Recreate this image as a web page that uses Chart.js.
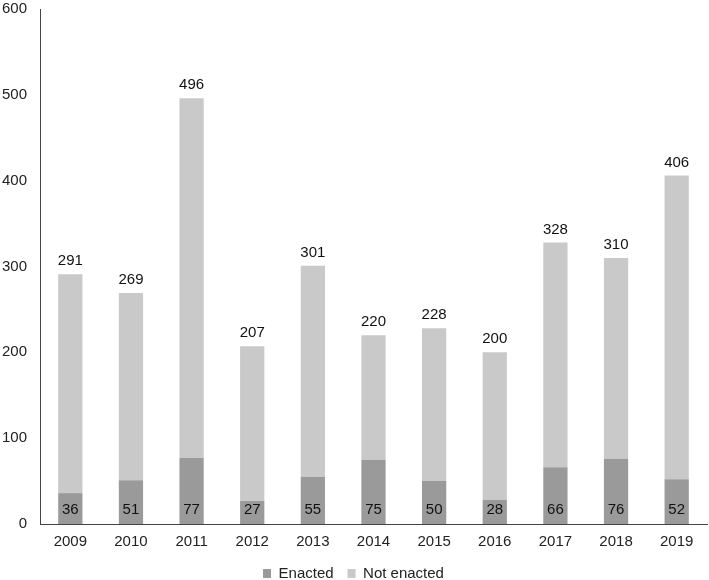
<!DOCTYPE html>
<html><head><meta charset="utf-8">
<script src="https://cdn.jsdelivr.net/npm/chart.js@4/dist/chart.umd.min.js"></script>
<style>html,body{margin:0;padding:0;background:#fff;overflow:hidden}#wrap{width:709px;height:591px}</style>
</head><body><div id="wrap"><canvas id="c"></canvas></div>
<script>
const years = ["2009","2010","2011","2012","2013","2014","2015","2016","2017","2018","2019"];
const enacted = [36,51,77,27,55,75,50,28,66,76,52];
const totals = [291,269,496,207,301,220,228,200,328,310,406];
const notEnacted = totals.map((t,i)=>t-enacted[i]);
const yTicks = [0,100,200,300,400,500,600];
const FONT = '"Liberation Sans", Arial, sans-serif';

const labelPlugin = {
  id:'labels',
  afterDatasetsDraw(chart){
    const ctx = chart.ctx;
    ctx.save();
    ctx.font = '15px ' + FONT;
    ctx.fillStyle = '#111';
    ctx.textAlign = 'center';
    const m0 = chart.getDatasetMeta(0), m1 = chart.getDatasetMeta(1);
    const y0 = chart.scales.y.getPixelForValue(0);
    m0.data.forEach((el,i)=>{
      ctx.textBaseline='middle';
      ctx.fillText(String(enacted[i]), el.x, y0-14);
    });
    m1.data.forEach((el,i)=>{
      ctx.textBaseline='middle';
      ctx.fillText(String(totals[i]), el.x, el.y-13);
    });
    ctx.restore();
  }
};

new Chart(document.getElementById('c'),{
  type:'bar',
  data:{labels:years,datasets:[
    {label:'Enacted',data:enacted,backgroundColor:'#9a9a9a',barPercentage:0.4,categoryPercentage:1},
    {label:'Not enacted',data:notEnacted,backgroundColor:'#c9c9c9',barPercentage:0.4,categoryPercentage:1}
  ]},
  options:{
    responsive:true,maintainAspectRatio:false,animation:false,
    layout:{padding:{top:0,right:2,left:0,bottom:0}},
    plugins:{
      legend:{position:'bottom',labels:{boxWidth:8,boxHeight:9,padding:14,color:'#222',font:{family:FONT,size:15}}},
      tooltip:{enabled:false}
    },
    scales:{
      x:{stacked:true,grid:{display:false,drawTicks:false},border:{color:'#444',width:1},
         afterFit(s){s.height = s.height - 8;},
         ticks:{color:'#222',padding:9,font:{family:FONT,size:15}}},
      y:{stacked:true,min:0,max:600,grid:{display:false,drawTicks:true,tickLength:13,tickColor:'rgba(0,0,0,0)'},border:{color:'#444',width:1},
         afterBuildTicks(s){s.ticks=yTicks.map(v=>({value:v}));},
         afterFit(s){s.width=40;},
         ticks:{color:'#222',padding:0,font:{family:FONT,size:15}}}
    }
  },
  plugins:[labelPlugin]
});
</script></body></html>
